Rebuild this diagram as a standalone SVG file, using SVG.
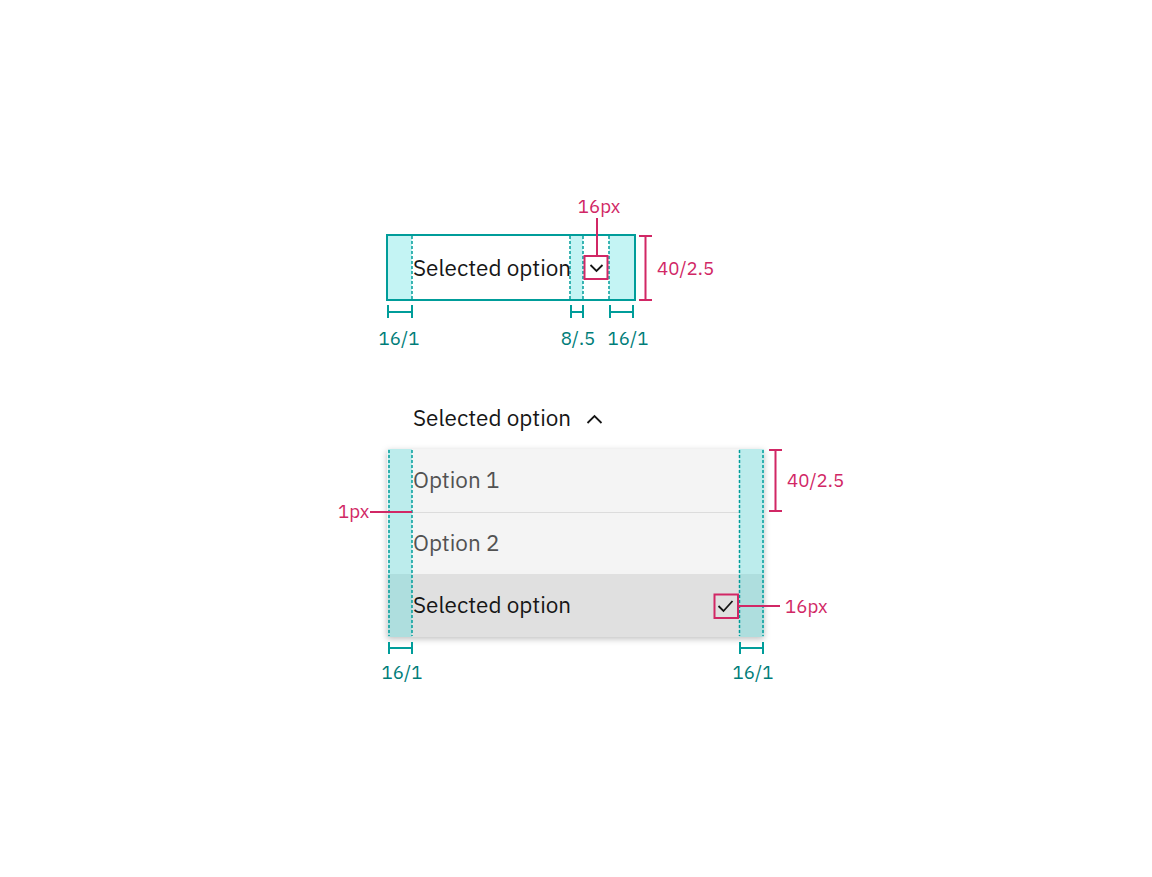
<svg xmlns="http://www.w3.org/2000/svg" width="1152" height="877" viewBox="0 0 1152 877">
<defs>
<style>
.txt{font-family:"IBM Plex Sans","Noto Sans","Liberation Sans",sans-serif;font-size:22.5px;fill:#161616}
.opt{fill:#525252}
.teal{font-family:"IBM Plex Sans","Noto Sans","Liberation Sans",sans-serif;font-size:18.7px;fill:#007d79;text-anchor:middle}
.red{font-family:"IBM Plex Sans","Noto Sans","Liberation Sans",sans-serif;font-size:18.7px;fill:#d12765}
.shade{fill:#3ddbd9;fill-opacity:0.3}
.dash{stroke:#009d9a;stroke-width:1.5;stroke-dasharray:3 2;fill:none}
.tl{stroke:#009d9a;stroke-width:2;fill:none}
.rl{stroke:#d12765;stroke-width:2;fill:none}
.chev{stroke:#161616;stroke-width:1.8;fill:none}
</style>
<filter id="sh" x="-10%" y="-10%" width="120%" height="130%">
<feDropShadow dx="0" dy="2" stdDeviation="3" flood-color="#000" flood-opacity="0.25"/>
</filter>
</defs>
<rect width="1152" height="877" fill="#ffffff"/>

<g id="closed-dropdown">
<rect x="387" y="235" width="248" height="65" fill="#ffffff"/>
<rect class="shade" x="387" y="235" width="25" height="65"/>
<rect class="shade" x="570" y="235" width="13" height="65"/>
<rect class="shade" x="609" y="235" width="26" height="65"/>
<line class="dash" x1="412" y1="236" x2="412" y2="299"/>
<line class="dash" x1="570" y1="236" x2="570" y2="299"/>
<line class="dash" x1="583" y1="236" x2="583" y2="299"/>
<line class="dash" x1="609" y1="236" x2="609" y2="299"/>
<rect x="387" y="235" width="248" height="65" fill="none" stroke="#009d9a" stroke-width="2"/>
<text class="txt" x="413" y="276">Selected option</text>
<polyline class="chev" points="590.5,265 596.5,271 602.5,265"/>
<rect x="584.5" y="256" width="23" height="23" fill="none" stroke="#d12765" stroke-width="2"/>
</g>

<g id="open-header">
<text class="txt" x="413" y="426">Selected option</text>
<polyline class="chev" points="587.5,423 594.5,416 601.5,423"/>
</g>

<g id="menu">
<rect x="387" y="449" width="377" height="188" fill="#f4f4f4" filter="url(#sh)"/>
<rect x="387" y="574" width="377" height="63" fill="#e0e0e0"/>
<line x1="412" y1="512.5" x2="739" y2="512.5" stroke="#dcdcdc" stroke-width="1"/>
<rect class="shade" x="388" y="449" width="24" height="188"/>
<rect class="shade" x="739" y="449" width="25" height="188"/>
<line class="dash" x1="389" y1="450" x2="389" y2="636"/>
<line class="dash" x1="412" y1="450" x2="412" y2="636"/>
<line class="dash" x1="739.5" y1="450" x2="739.5" y2="636"/>
<line class="dash" x1="763" y1="450" x2="763" y2="636"/>
<text class="txt opt" x="413" y="488">Option 1</text>
<text class="txt opt" x="413" y="551">Option 2</text>
<text class="txt" x="413" y="613">Selected option</text>
<polyline class="chev" points="718.5,606 723.5,611 732.5,601"/>
<rect x="714.5" y="594.5" width="23.5" height="23.5" fill="none" stroke="#d12765" stroke-width="2"/>
</g>

<g id="connectors">
<path class="tl" d="M388,312H412M388,305V318M412,305V318"/>
<path class="tl" d="M571,312H583M571,305V318M583,305V318"/>
<path class="tl" d="M610,312H633M610,305V318M633,305V318"/>
<path class="rl" d="M597,218V256"/>
<path class="rl" d="M645.5,236V300M639,236H652M639,300H652"/>
<path class="tl" d="M389,648H412M389,642V654M412,642V654"/>
<path class="tl" d="M740,648H763M740,642V654M763,642V654"/>
<path class="rl" d="M370,512H412"/>
<path class="rl" d="M775.5,450V511M769,450H782M769,511H782"/>
<path class="rl" d="M738,606H780"/>
</g>

<g id="labels">
<text class="red" x="599" y="213" text-anchor="middle">16px</text>
<text class="red" x="657" y="275">40/2.5</text>
<text class="teal" x="399" y="345">16/1</text>
<text class="teal" x="578" y="345">8/.5</text>
<text class="teal" x="628" y="345">16/1</text>
<text class="red" x="338" y="518">1px</text>
<text class="red" x="787" y="487">40/2.5</text>
<text class="red" x="785" y="613">16px</text>
<text class="teal" x="402" y="679">16/1</text>
<text class="teal" x="753" y="679">16/1</text>
</g>
</svg>
